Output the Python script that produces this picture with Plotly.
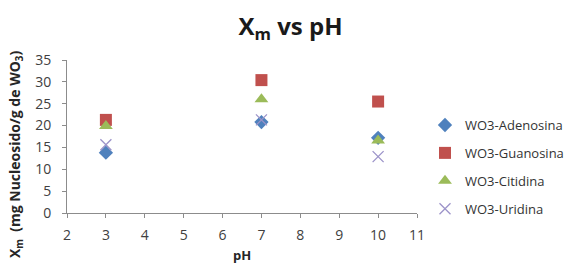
import plotly.graph_objects as go

ph = [3, 7, 10]
adenosina = [13.8, 20.8, 17.2]
guanosina = [21.3, 30.4, 25.5]
citidina = [19.9, 26.0, 16.6]
uridina = [15.6, 21.3, 12.9]

series = [
    ("WO3-Adenosina", adenosina, "diamond", "#4F81BD", 11, None),
    ("WO3-Guanosina", guanosina, "square", "#C0504D", 12, None),
    ("WO3-Citidina", citidina, "triangle-up", "#9BBB59", 12, None),
    ("WO3-Uridina", uridina, "x-thin", "#9C93C9", 11, 1.3),
]

fig = go.Figure()
for i, (name, vals, sym, col, size, lw) in enumerate(series):
    marker = dict(symbol=sym, color=col, size=size)
    if lw:
        marker["line"] = dict(color=col, width=lw)
    fig.add_trace(go.Scatter(x=ph, y=vals, mode="markers", name=name,
                             marker=marker, legendgroup=str(i)))

font = "Open Sans, Liberation Sans, sans-serif"
fig.update_layout(
    width=581, height=264,
    margin=dict(l=67, r=164, t=60, b=51),
    paper_bgcolor="white", plot_bgcolor="white",
    font=dict(family=font, size=14, color="#404040"),
    title=dict(text="<b>X<sub>m</sub> vs pH</b>", x=290.5 / 581, xanchor="center",
               y=0.9, yanchor="middle", font=dict(size=24, color="#1a1a1a")),
    showlegend=True,
    legend=dict(x=(425 - 67) / 350, y=0.673, xanchor="left", yanchor="top",
                font=dict(size=13, color="#333333"), tracegroupgap=8,
                itemwidth=30),
    xaxis=dict(range=[2, 11], dtick=1, tick0=2, showgrid=False, zeroline=False,
               automargin=False,
               showline=True, linecolor="#8c8c8c", linewidth=1,
               ticks="outside", ticklen=4, tickcolor="#8c8c8c",
               ticklabelstandoff=5,
               title=dict(text="<b>pH</b>", font=dict(size=13, color="#262626"), standoff=16)),
    yaxis=dict(range=[0, 35], dtick=5, showgrid=False, zeroline=False,
               automargin=False,
               showline=True, linecolor="#8c8c8c", linewidth=1,
               ticks="outside", ticklen=4, tickcolor="#8c8c8c",
               ticklabelstandoff=8),
    annotations=[dict(text="<b>X<sub>m</sub>  (mg Nucleosido/g de WO<sub>3</sub>)</b>",
                      textangle=-90, xref="paper", yref="paper",
                      x=(15 - 67) / 350, y=(213 - 155) / 153,
                      xanchor="center", yanchor="middle", showarrow=False,
                      font=dict(size=14, color="#262626"))],
)

fig.write_html("out.html", config={"displayModeBar": False},
               post_script="document.body.style.margin='0';")
